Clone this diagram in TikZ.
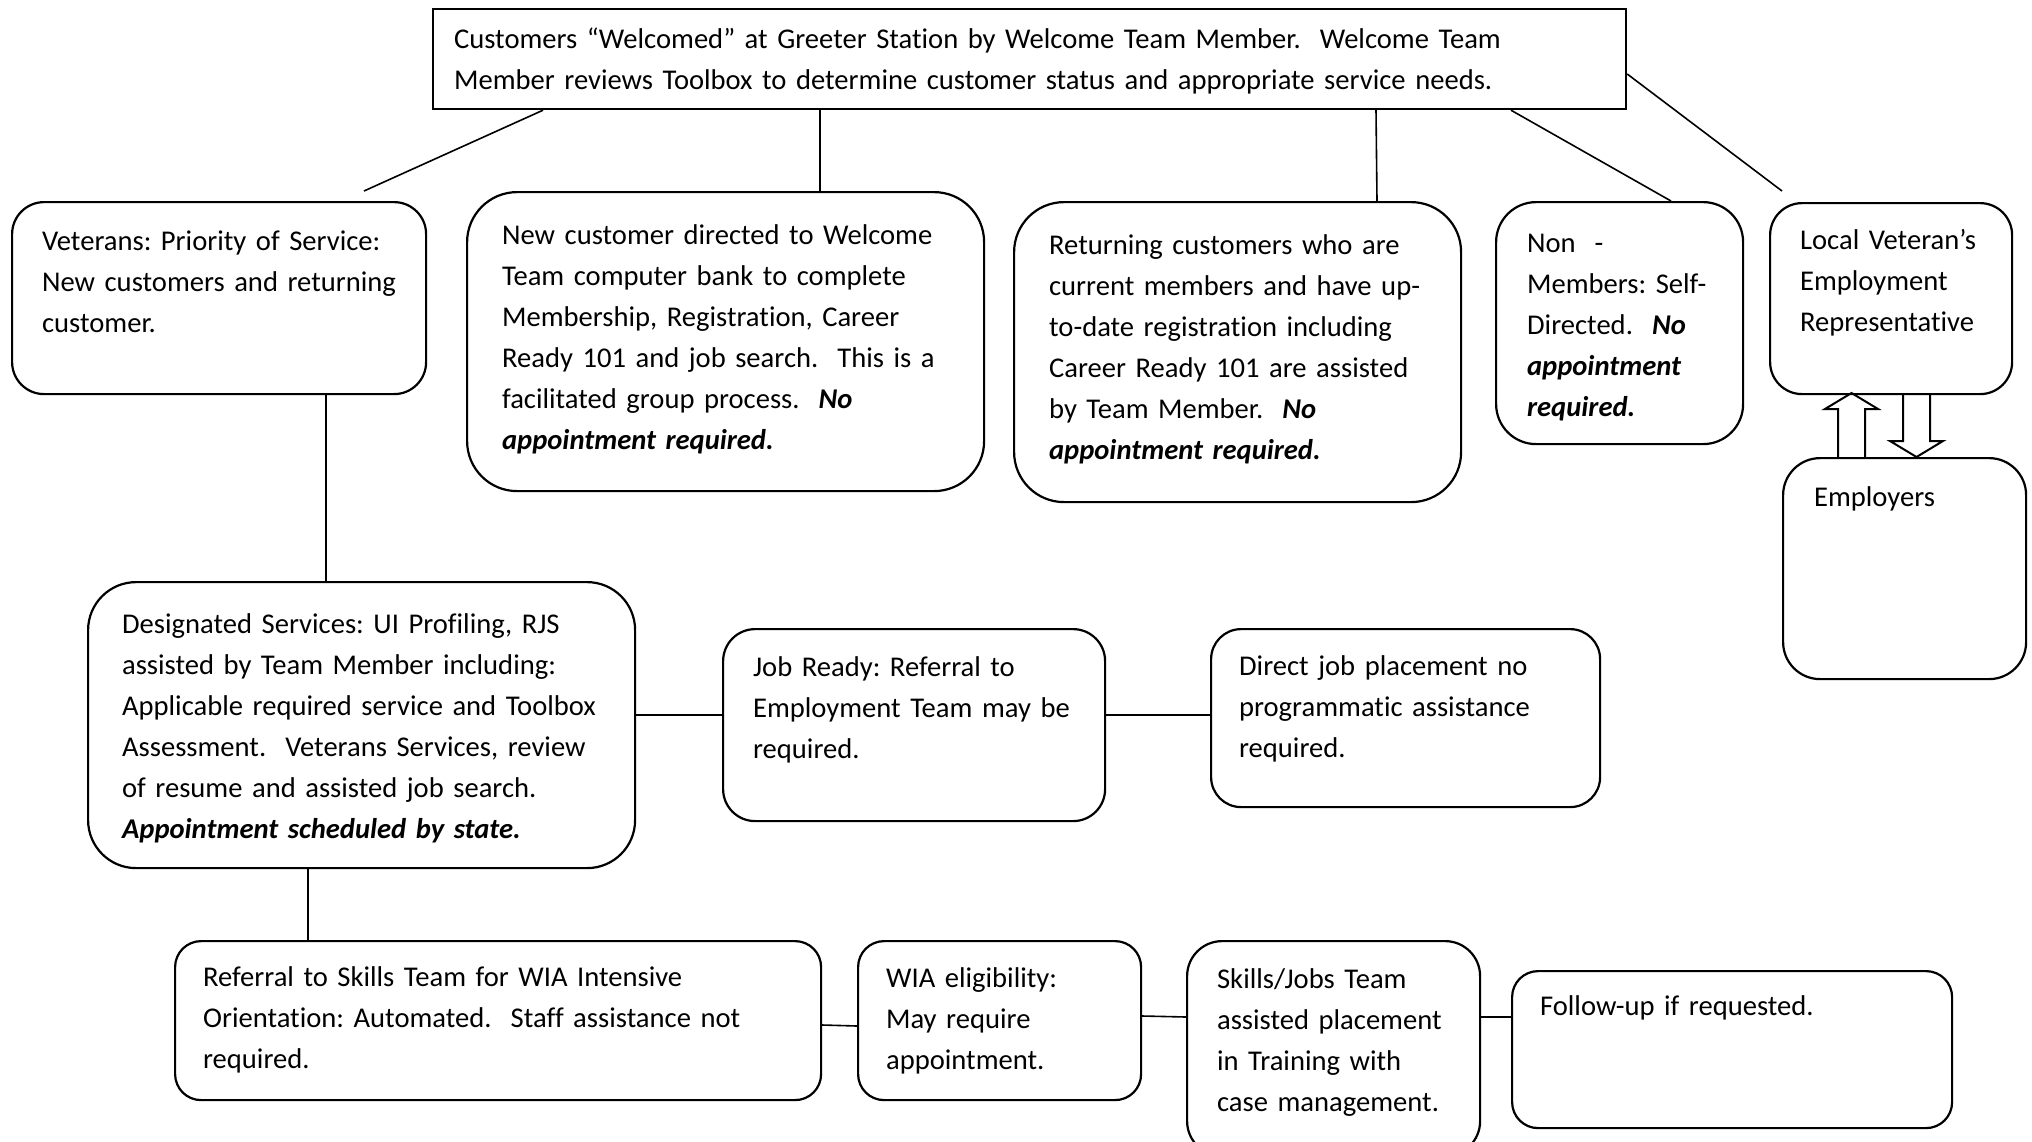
\documentclass[tikz,border=0pt]{standalone}
\usepackage{fontspec}
\setmainfont{Carlito}[Ligatures=NoCommon]
\frenchspacing
\newcommand{\bi}[1]{\textbf{\textit{#1}}}
\tikzset{
  box/.style={draw, line width=2.2pt, anchor=north west, align=left,
    inner xsep=0pt, inner ysep=0pt, font=\fontsize{28.6}{41}\selectfont},
  % width, first baseline, rest of height, left pad
  dims/.style n args={4}{text width=#1pt, text height=#2pt, text depth=#3pt,
    execute at begin node={\leftskip=#4pt\relax}},
  link/.style={line width=1.6pt},
  blockarrow/.style={line width=2pt, line join=miter},
}
\begin{document}
\begin{tikzpicture}[x=1pt, y=-1pt]
\useasboundingbox[fill=white] (0,0) rectangle (2032,1141);
% top row
\node[box, dims={1193}{39}{61}{21}] (top) at (432,8)
  {Customers “Welcomed” at Greeter Station by Welcome Team Member.\ \ Welcome Team\\
   Member reviews Toolbox to determine customer status and appropriate service needs.};
\node[box, rounded corners=32pt, dims={414}{48}{144}{30}] (vet) at (11,201)
  {Veterans: Priority of Service:\\ New customers and returning\\ customer.};
\node[box, rounded corners=50pt, dims={517}{52}{247}{35}] (new) at (466,191)
  {New customer directed to Welcome\\ Team computer bank to complete\\
   Membership, Registration, Career\\ Ready 101 and job search.\ \ This is a\\
   facilitated group process.\ \ \bi{No}\\ \bi{appointment required.}};
\node[box, rounded corners=50pt, dims={447}{52}{248}{35}] (ret) at (1013,201)
  {Returning customers who are\\ current members and have up-\\
   to-date registration including\\ Career Ready 101 are assisted\\
   by Team Member.\ \ \bi{No}\\ \bi{appointment required.}};
\node[box, rounded corners=40pt, dims={247}{50}{192}{31}] (non) at (1495,201)
  {Non\ \ -\\ Members: Self-\\ Directed.\ \ \bi{No}\\ \bi{appointment}\\ \bi{required.}};
\node[box, rounded corners=32pt, dims={242}{46}{145}{30}] (lver) at (1769,202)
  {Local Veteran’s\\ Employment\\ Representative};
\node[box, rounded corners=37pt, dims={243}{48}{173}{31}] (emp) at (1782,457)
  {Employers};
% middle row
\node[box, rounded corners=48pt, dims={547}{51}{235}{34}] (des) at (87,581)
  {Designated Services: UI Profiling, RJS\\ assisted by Team Member including:\\
   Applicable required service and Toolbox\\ Assessment.\ \ Veterans Services, review\\
   of resume and assisted job search.\\ \bi{Appointment scheduled by state.}};
\node[box, rounded corners=32pt, dims={382}{47}{145}{30}] (job) at (722,628)
  {Job Ready: Referral to\\ Employment Team may be\\ required.};
\node[box, rounded corners=30pt, dims={389}{46}{132}{28}] (dir) at (1210,628)
  {Direct job placement no\\ programmatic assistance\\ required.};
% bottom row
\node[box, rounded corners=26pt, dims={646}{45}{114}{28}] (ref) at (174,940)
  {Referral to Skills Team for WIA Intensive\\ Orientation: Automated.\ \ Staff assistance not\\ required.};
\node[box, rounded corners=26pt, dims={283}{46}{113}{28}] (wia) at (857,940)
  {WIA eligibility:\\ May require\\ appointment.};
\node[box, rounded corners=35pt, dims={293}{47}{168}{30}] (skl) at (1186,940)
  {Skills/Jobs Team\\ assisted placement\\ in Training with\\ case management.};
\node[box, rounded corners=26pt, dims={440}{44}{113}{28}] (fol) at (1511,970)
  {Follow-up if requested.};
% connectors
\coordinate (vetend) at (364,191);
\coordinate (lverend) at (1782,191);
\draw[link] (543,0 |- top.south) -- (vetend);
\draw[link] (820,0 |- top.south) -- (820,0 |- new.north);
\draw[link] (1376,0 |- top.south) -- (1377,0 |- ret.north);
\draw[link] (1511,0 |- top.south) -- (1671,0 |- non.north);
\draw[link] (top.east |- 0,74) -- (lverend);
\draw[link] (326,0 |- vet.south) -- (326,0 |- des.north);
\draw[link] (308,0 |- des.south) -- (308,0 |- ref.north);
\draw[link] (des.east |- 0,715) -- (job.west |- 0,715);
\draw[link] (job.east |- 0,715) -- (dir.west |- 0,715);
\draw[link] (ref.east |- 0,1025) -- (wia.west |- 0,1026);
\draw[link] (wia.east |- 0,1016) -- (skl.west |- 0,1017);
\draw[link] (skl.east |- 0,1017) -- (fol.west |- 0,1017);
% block arrows between LVER and employers
\foreach \cx/\b/\h/\t in {1851.5/457/409/393, 1916.5/393/441/457}
  \draw[blockarrow] ({\cx-13.5},\b) -- ({\cx-13.5},\h) -- ({\cx-26.5},\h)
    -- (\cx,\t) -- ({\cx+26.5},\h) -- ({\cx+13.5},\h) -- ({\cx+13.5},\b);
\end{tikzpicture}
\end{document}
